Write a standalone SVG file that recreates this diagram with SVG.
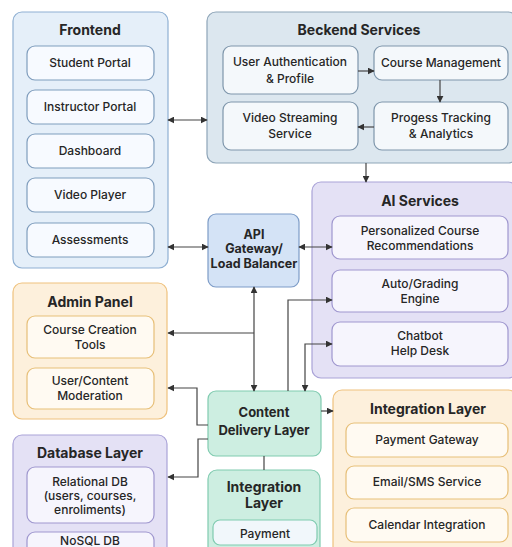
<svg xmlns="http://www.w3.org/2000/svg" width="512" height="547" viewBox="0 0 512 547">
<defs>
<marker id="ah" viewBox="0 0 10 10" refX="9" refY="5" markerWidth="7" markerHeight="7" orient="auto-start-reverse" markerUnits="userSpaceOnUse">
<path d="M0,0 L10,5 L0,10 z" fill="#333"/>
</marker>
<style>
text{font-family:Inter,"Open Sans","Liberation Sans",sans-serif;fill:#262626;text-anchor:middle}
.t{font-size:14px;font-weight:bold}
.b{font-size:12px;font-weight:500}
.g{font-size:12.5px;font-weight:bold}
.blue{fill:#e5eff9;stroke:#8fb0d3;stroke-width:1.2}
.blueIn{fill:#f7faff;stroke:#7f9dbd;stroke-width:1.2}
.back{fill:#dce7ef;stroke:#8ea5b8;stroke-width:1.2}
.backIn{fill:#f4f8fb;stroke:#7e96ab;stroke-width:1.2}
.purple{fill:#e4e1f5;stroke:#aaa3d8;stroke-width:1.2}
.purpleIn{fill:#f6f5fd;stroke:#9f97cf;stroke-width:1.2}
.orange{fill:#fdf0dc;stroke:#efc27e;stroke-width:1.2}
.orangeIn{fill:#fffaf2;stroke:#e7bf78;stroke-width:1.2}
.green{fill:#cdeee1;stroke:#80cbb0;stroke-width:1.2}
.greenIn{fill:#f1f7fb;stroke:#80cbb0;stroke-width:1.2}
.api{fill:#d4e3f6;stroke:#7d9cc7;stroke-width:1.2}
.c{fill:none;stroke:#444;stroke-width:1.2}
</style>
</defs>

<g id="frontend">
<rect class="blue" x="13" y="12" width="155" height="256" rx="9"/>
<text class="t" x="90" y="35">Frontend</text>
<rect class="blueIn" x="27" y="46" width="127" height="34" rx="8"/>
<text class="b" x="90" y="67">Student Portal</text>
<rect class="blueIn" x="27" y="90" width="127" height="34" rx="8"/>
<text class="b" x="90" y="111">Instructor Portal</text>
<rect class="blueIn" x="27" y="134" width="127" height="34" rx="8"/>
<text class="b" x="90" y="155">Dashboard</text>
<rect class="blueIn" x="27" y="178" width="127" height="34" rx="8"/>
<text class="b" x="90" y="199">Video Player</text>
<rect class="blueIn" x="27" y="223" width="127" height="34" rx="8"/>
<text class="b" x="90" y="244">Assessments</text>
</g>

<g id="backend">
<rect class="back" x="207" y="12" width="310" height="151" rx="9"/>
<text class="t" x="359" y="35">Beckend Services</text>
<rect class="backIn" x="223" y="46" width="135" height="48" rx="8"/>
<text class="b" x="290" y="66">User Authentication</text>
<text class="b" x="290" y="83">&amp; Profile</text>
<rect class="backIn" x="374" y="46" width="134" height="34" rx="8"/>
<text class="b" x="441" y="67">Course Management</text>
<rect class="backIn" x="223" y="102" width="135" height="48" rx="8"/>
<text class="b" x="290" y="122">Video Streaming</text>
<text class="b" x="290" y="138">Service</text>
<rect class="backIn" x="374" y="102" width="134" height="48" rx="8"/>
<text class="b" x="441" y="122">Progess Tracking</text>
<text class="b" x="441" y="138">&amp; Analytics</text>
</g>

<g id="ai-services">
<rect class="purple" x="312" y="182" width="205" height="196" rx="9"/>
<text class="t" x="420" y="206">AI Services</text>
<rect class="purpleIn" x="332" y="216" width="176" height="43" rx="8"/>
<text class="b" x="420" y="235">Personalized Course</text>
<text class="b" x="420" y="250">Recommendations</text>
<rect class="purpleIn" x="332" y="270" width="176" height="42" rx="8"/>
<text class="b" x="420" y="288">Auto/Grading</text>
<text class="b" x="420" y="303">Engine</text>
<rect class="purpleIn" x="332" y="322" width="176" height="44" rx="8"/>
<text class="b" x="420" y="340">Chatbot</text>
<text class="b" x="420" y="355">Help Desk</text>
</g>

<g id="api-gateway">
<rect class="api" x="208" y="214" width="91" height="73" rx="8"/>
<text class="g" x="254" y="239">API</text>
<text class="g" x="254" y="253">Gateway/</text>
<text class="g" x="254" y="268">Load Balancer</text>
</g>

<g id="admin-panel">
<rect class="orange" x="13" y="283" width="154" height="136" rx="9"/>
<text class="t" x="90" y="307">Admin Panel</text>
<rect class="orangeIn" x="27" y="316" width="127" height="42" rx="8"/>
<text class="b" x="90" y="334">Course Creation</text>
<text class="b" x="90" y="349">Tools</text>
<rect class="orangeIn" x="27" y="368" width="127" height="41" rx="8"/>
<text class="b" x="90" y="385">User/Content</text>
<text class="b" x="90" y="400">Moderation</text>
</g>

<g id="content-delivery">
<rect class="green" x="208" y="391" width="113" height="65" rx="8"/>
<text class="g" x="264" y="417" style="font-size:13px">Content</text>
<text class="g" x="264" y="435" style="font-size:13px">Delivery Layer</text>
</g>

<g id="integration-right">
<rect class="orange" x="333" y="390" width="184" height="170" rx="9"/>
<text class="t" x="428" y="414">Integration Layer</text>
<rect class="orangeIn" x="346" y="423" width="162" height="34" rx="8"/>
<text class="b" x="427" y="444">Payment Gateway</text>
<rect class="orangeIn" x="346" y="466" width="162" height="33" rx="8"/>
<text class="b" x="427" y="486">Email/SMS Service</text>
<rect class="orangeIn" x="346" y="508" width="162" height="34" rx="8"/>
<text class="b" x="427" y="529">Calendar Integration</text>
</g>

<g id="database-layer">
<rect class="purple" x="13" y="435" width="154" height="130" rx="9"/>
<text class="t" x="90" y="458">Database Layer</text>
<rect class="purpleIn" x="27" y="467" width="127" height="56" rx="8"/>
<text class="b" x="90" y="486">Relational DB</text>
<text class="b" x="90" y="500">(users, courses,</text>
<text class="b" x="90" y="514">enroliments)</text>
<rect class="purpleIn" x="27" y="532" width="127" height="40" rx="8"/>
<text class="b" x="90" y="545">NoSQL DB</text>
</g>

<g id="integration-middle">
<rect class="green" x="208" y="470" width="112" height="90" rx="9"/>
<text class="t" x="264" y="492">Integration</text>
<text class="t" x="264" y="508">Layer</text>
<rect class="greenIn" x="213" y="520" width="104" height="25" rx="7"/>
<text class="b" x="265" y="538">Payment</text>
</g>

<g id="connectors">
<line class="c" x1="168" y1="120" x2="207" y2="120" marker-start="url(#ah)" marker-end="url(#ah)"/>
<line class="c" x1="168" y1="247" x2="208" y2="247" marker-start="url(#ah)" marker-end="url(#ah)"/>
<line class="c" x1="299" y1="247" x2="332" y2="247" marker-start="url(#ah)" marker-end="url(#ah)"/>
<line class="c" x1="358" y1="71" x2="374" y2="71" marker-end="url(#ah)"/>
<line class="c" x1="440" y1="80" x2="440" y2="102" marker-end="url(#ah)"/>
<line class="c" x1="374" y1="127" x2="358" y2="127" marker-end="url(#ah)"/>
<line class="c" x1="366" y1="163" x2="366" y2="182" marker-end="url(#ah)"/>
<line class="c" x1="254" y1="287" x2="254" y2="391" marker-start="url(#ah)" marker-end="url(#ah)"/>
<polyline class="c" points="254,333 168,333" marker-end="url(#ah)"/>
<polyline class="c" points="288,391 288,300 332,300" marker-end="url(#ah)"/>
<polyline class="c" points="305,391 305,344 332,344" marker-start="url(#ah)" marker-end="url(#ah)"/>
<polyline class="c" points="208,425 197,425 197,388 168,388" marker-end="url(#ah)"/>
<line class="c" x1="321" y1="411" x2="333" y2="411" marker-end="url(#ah)"/>
<polyline class="c" points="208,439 198,439 198,477 168,477" marker-end="url(#ah)"/>
<line class="c" x1="264" y1="456" x2="264" y2="470"/>
</g>
</svg>
